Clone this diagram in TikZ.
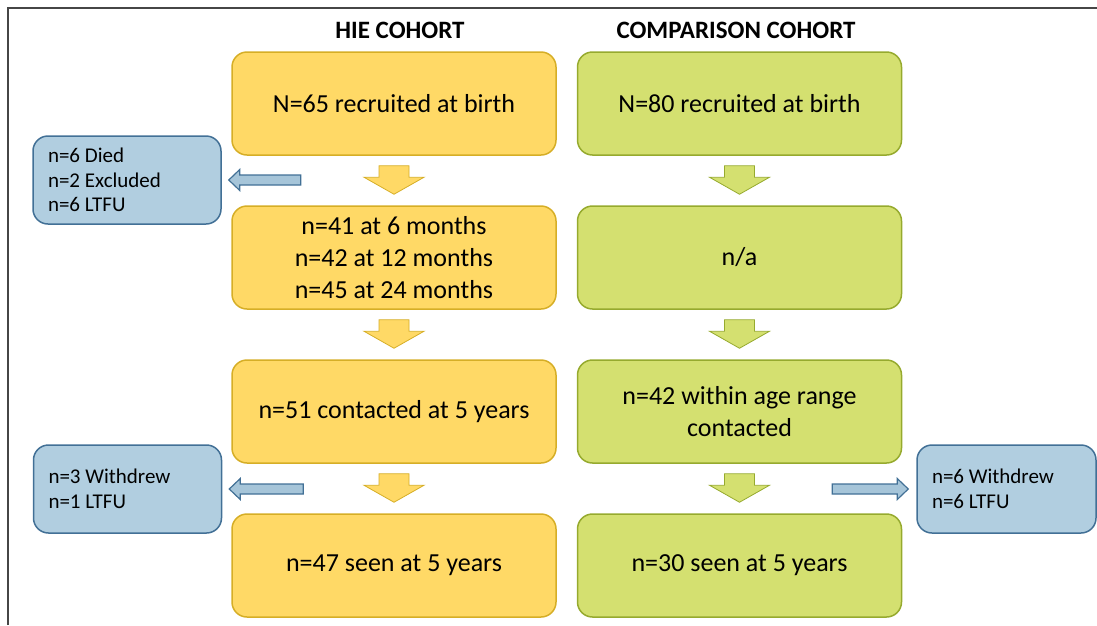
\documentclass[tikz,border=0pt]{standalone}
\usepackage{fontspec}
\setmainfont{Carlito}
\usepackage{tikz}
\usetikzlibrary{calc}
\usepackage{xcolor}
\definecolor{hiefill}{RGB}{255,217,102}
\definecolor{hiedraw}{RGB}{214,174,38}
\definecolor{compfill}{RGB}{212,224,112}
\definecolor{compdraw}{RGB}{150,170,46}
\definecolor{lossfill}{RGB}{177,206,224}
\definecolor{lossdraw}{RGB}{66,112,150}
\definecolor{framegray}{RGB}{70,70,70}
\tikzset{
    cohort/.style={rounded corners=15pt, line width=1.5pt, minimum width=324pt, minimum height=103pt, align=center, font=\fontsize{26}{32}\selectfont},
    hie/.style={cohort, draw=hiedraw, fill=hiefill},
    comp/.style={cohort, draw=compdraw, fill=compfill},
    loss/.style={draw=lossdraw, fill=lossfill, rounded corners=15pt, line width=1.5pt, minimum height=88pt, text width=158pt, inner xsep=15pt, align=flush left, font=\fontsize{21}{24.5}\selectfont},
    heading/.style={font=\fontsize{25}{30}\selectfont\bfseries},
    blockarrow/.style n args={3}{to path={let \p1=(\tikztostart), \p2=(\tikztotarget), \p3=($(\p2)!#3!(\p1)$) in
        ($(\p1)!#1!90:(\p2)$) -- ($(\p3)!#1!90:(\p2)$) -- ($(\p3)!#2!90:(\p2)$) -- (\p2)
        -- ($(\p3)!#2!-90:(\p2)$) -- ($(\p3)!#1!-90:(\p2)$) -- ($(\p1)!#1!-90:(\p2)$) -- cycle}},
    downarrow/.style={blockarrow={15pt}{30pt}{17pt}, line width=0.8pt},
    sidearrow/.style={blockarrow={5pt}{10.5pt}{11pt}, draw=lossdraw, fill=lossfill!90!lossdraw, line width=1.2pt}
}

\begin{document}
\begin{tikzpicture}[x=1pt, y=-1pt]
    \useasboundingbox (0,0) rectangle (1097,625);
    \draw[framegray, line width=2pt] (7.5,625) -- (7.5,7.5) -- (1097,7.5);

    \node[heading] (t1) at (400,30) {HIE COHORT};
    \node[heading] (t2) at (736,30) {COMPARISON COHORT};

    \node[hie] (h1) at (394,103.5) {N=65 recruited at birth};
    \node[hie] (h2) at (394,257.5) {n=41 at 6 months\\n=42 at 12 months\\n=45 at 24 months};
    \node[hie] (h3) at (394,411.5) {n=51 contacted at 5 years};
    \node[hie] (h4) at (394,565.5) {n=47 seen at 5 years};

    \node[comp] (c1) at (739.5,103.5) {N=80 recruited at birth};
    \node[comp] (c2) at (739.5,257.5) {n/a};
    \node[comp] (c3) at (739.5,411.5) {n=42 within age range\\contacted};
    \node[comp] (c4) at (739.5,565.5) {n=30 seen at 5 years};

    \node[loss] (l1) at (127,180) {n=6 Died\\n=2 Excluded\\n=6 LTFU};
    \node[loss] (l2) at (127.5,489) {n=3 Withdrew\\n=1 LTFU};
    \node[loss, text width=149pt] (l3) at (1006.5,489) {n=6 Withdrew\\n=6 LTFU};

    \foreach \a/\b in {h1/h2, h2/h3, h3/h4}
        \draw[downarrow, draw=hiedraw, fill=hiefill] ($(\a.south)+(0,10)$) to ($(\b.north)+(0,-11)$);
    \foreach \a/\b in {c1/c2, c2/c3, c3/c4}
        \draw[downarrow, draw=compdraw, fill=compfill] ($(\a.south)+(0,10)$) to ($(\b.north)+(0,-11)$);

    \coordinate (s1) at ($(l1.east)+(79,0)$);
    \coordinate (s2) at ($(l2.east)+(81,0)$);
    \coordinate (s3) at ($(l3.west)+(-84,0)$);
    \draw[sidearrow] (s1) to ($(l1.east)+(7,0)$);
    \draw[sidearrow] (s2) to ($(l2.east)+(7,0)$);
    \draw[sidearrow] (s3) to ($(l3.west)+(-8,0)$);
\end{tikzpicture}
\end{document}
